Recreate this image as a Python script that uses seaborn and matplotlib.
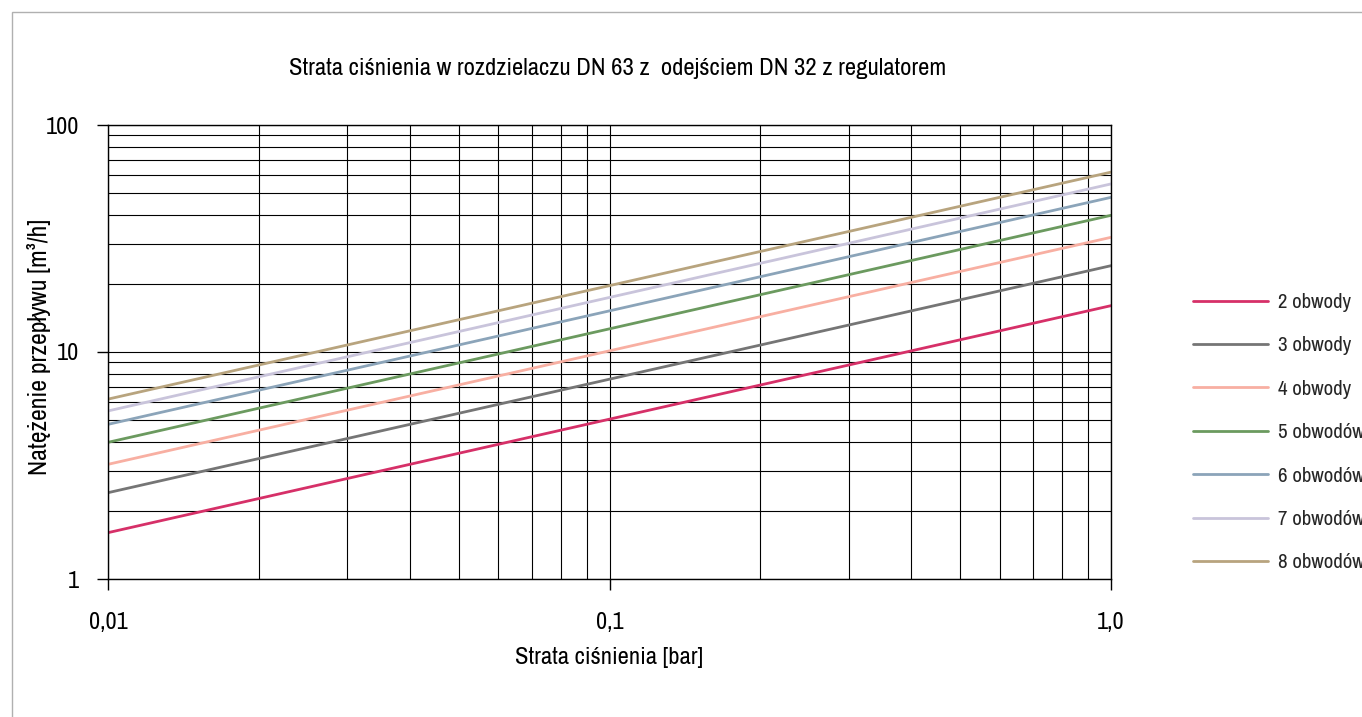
import matplotlib
matplotlib.use("Agg")
import matplotlib.pyplot as plt
import matplotlib.ticker as mticker
import pandas as pd
import seaborn as sns

# dane (końce prostych w skali log-log)
strata = [0.01, 1.0]
serie = ["2 obwody", "3 obwody", "4 obwody", "5 obwodów",
         "6 obwodów", "7 obwodów", "8 obwodów"]
q_start = [1.6, 2.4, 3.2, 4.0, 4.8, 5.5, 6.2]
q_end = [16, 24, 32, 40, 48, 55, 62]
kolory = ["#D63068", "#757575", "#F8AFA2", "#6B9A5F",
          "#8BA4B9", "#C9C4DB", "#B8A47E"]

x_ticks = [0.01, 0.1, 1.0]
x_labels = ["0,01", "0,1", "1,0"]
y_ticks = [1, 10, 100]
y_labels = ["1", "10", "100"]

rows = []
for name, a, b in zip(serie, q_start, q_end):
    rows.append({"strata": strata[0], "Q": a, "seria": name})
    rows.append({"strata": strata[1], "Q": b, "seria": name})
df = pd.DataFrame(rows)

sns.set_style("white")
plt.rcParams["font.family"] = ["Archivo Narrow", "DejaVu Sans"]

fig = plt.figure(figsize=(13.62, 7.17), dpi=100)
ax = fig.add_axes([108 / 1362, 1 - 579 / 717, (1111 - 108) / 1362, (579 - 125) / 717])

# ramka wokół wykresu
fig.patches.append(plt.Rectangle((12 / 1362, -0.1), 1.2, 1 - 12 / 717 + 0.1,
                                 transform=fig.transFigure, fill=False,
                                 edgecolor="#b0b0b0", linewidth=1))

sns.lineplot(data=df, x="strata", y="Q", hue="seria", hue_order=serie,
             palette=kolory, linewidth=2, ax=ax, legend=True)

ax.set_xscale("log")
ax.set_yscale("log")
ax.set_xlim(0.01, 1.0)
ax.set_ylim(1, 100)

ax.grid(True, which="both", color="black", linewidth=0.8)
ax.set_axisbelow(True)

ax.xaxis.set_major_locator(mticker.FixedLocator(x_ticks))
ax.xaxis.set_major_formatter(mticker.FixedFormatter(x_labels))
ax.yaxis.set_major_locator(mticker.FixedLocator(y_ticks))
ax.yaxis.set_major_formatter(mticker.FixedFormatter(y_labels))
ax.tick_params(which="major", direction="out", length=8, width=1,
               color="black", labelcolor="black", labelsize=17.5,
               bottom=True, left=True)
ax.tick_params(axis="x", pad=16)
ax.tick_params(axis="y", pad=13)
ax.tick_params(which="minor", length=0)

for s in ax.spines.values():
    s.set_color("black")
    s.set_linewidth(1)

ax.set_title("Strata ciśnienia w rozdzielaczu DN 63 z  odejściem DN 32 z regulatorem",
             fontsize=17.8, pad=36, color="black", x=0.5085)
ax.set_xlabel("Strata ciśnienia [bar]", fontsize=17.8, labelpad=10, color="black")
ax.set_ylabel("Natężenie przepływu [m³/h]", fontsize=18.5, labelpad=-4, color="black")
ax.yaxis.label.set_y(0.511)

ax.legend(loc="upper left", bbox_to_anchor=(1193 / 1362, 1 - 293 / 717),
          bbox_transform=fig.transFigure, frameon=False, fontsize=15,
          handlelength=3.6, handletextpad=0.48, labelspacing=1.17,
          borderpad=0, borderaxespad=0)

fig.savefig("out.png", dpi=100)
